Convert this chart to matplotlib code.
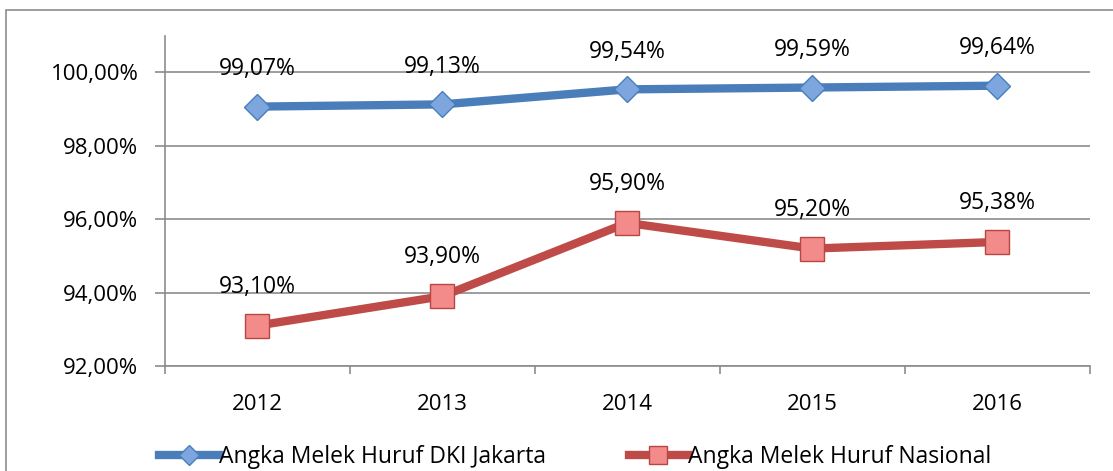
import matplotlib.pyplot as plt
from matplotlib.patches import Rectangle
from matplotlib.ticker import FixedLocator, NullFormatter

years = ["2012", "2013", "2014", "2015", "2016"]
dki = [99.07, 99.13, 99.54, 99.59, 99.64]
nasional = [93.10, 93.90, 95.90, 95.20, 95.38]

plt.rcParams["font.family"] = ["Open Sans", "DejaVu Sans"]

fig = plt.figure(figsize=(11.13, 4.71), dpi=100)
ax = fig.add_axes([0.148, 0.223, 0.831, 0.701])

# outer chart frame
fig.patches.append(Rectangle((6 / 1113, -0.1), 1.2, 1 - 10 / 471 + 0.1,
                             transform=fig.transFigure, fill=False,
                             edgecolor="#8c8c8c", linewidth=1.2))

x = list(range(len(years)))
ax.plot(x, dki, color="#4A7EBB", linewidth=6, marker="D", markersize=13,
        markerfacecolor="#7EA6DE", markeredgecolor="#4A7EBB",
        markeredgewidth=1, label="Angka Melek Huruf DKI Jakarta", zorder=3)
ax.plot(x, nasional, color="#BE4B48", linewidth=6, marker="s", markersize=17,
        markerfacecolor="#F28B89", markeredgecolor="#B94643",
        markeredgewidth=1, label="Angka Melek Huruf Nasional", zorder=3)

for xi, v in zip(x, dki):
    ax.annotate(f"{v:.2f}%".replace(".", ","), (xi, v), xytext=(0, 27),
                textcoords="offset points", ha="center", va="center", fontsize=16.5)
for xi, v in zip(x, nasional):
    ax.annotate(f"{v:.2f}%".replace(".", ","), (xi, v), xytext=(0, 28),
                textcoords="offset points", ha="center", va="center", fontsize=16.5)

ax.set_xlim(-0.5, len(years) - 0.5)
ax.set_ylim(92, 101)
ax.set_yticks([92, 94, 96, 98, 100])
ax.set_yticklabels([f"{t:.2f}%".replace(".", ",") for t in [92, 94, 96, 98, 100]])
ax.set_xticks(x)
ax.set_xticklabels(years)
ax.xaxis.set_minor_locator(FixedLocator([i - 0.5 for i in range(len(years) + 1)]))
ax.xaxis.set_minor_formatter(NullFormatter())
ax.tick_params(axis="x", which="major", length=0, pad=20, labelsize=16)
ax.tick_params(axis="x", which="minor", length=6, color="#8c8c8c", width=1.2)
ax.tick_params(axis="y", length=7, color="#8c8c8c", width=1.2, labelsize=16, pad=12)

ax.grid(axis="y", color="#8c8c8c", linewidth=1.2)
ax.set_axisbelow(True)
for s in ["top", "right"]:
    ax.spines[s].set_visible(False)
for s in ["left", "bottom"]:
    ax.spines[s].set_color("#8c8c8c")
    ax.spines[s].set_linewidth(1.2)

fig.legend(loc="center left", bbox_to_anchor=(0.135, 0.03), ncol=2, frameon=False,
           fontsize=16.5, handlelength=2.6, handletextpad=0.0, columnspacing=3.6,
           markerscale=0.75, borderaxespad=0)

fig.savefig("out.png", dpi=100)
